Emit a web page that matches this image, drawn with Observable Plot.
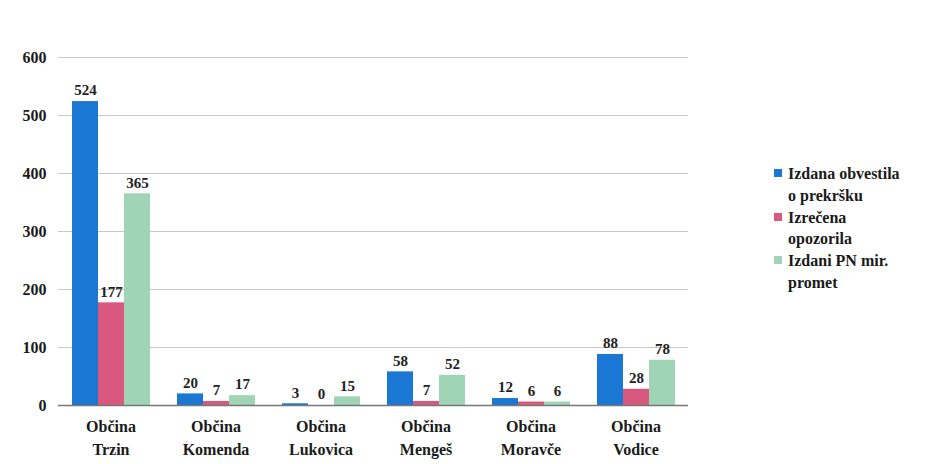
<!DOCTYPE html>
<html>
<head>
<meta charset="utf-8">
<script src="https://cdn.jsdelivr.net/npm/d3@7"></script>
<script src="https://cdn.jsdelivr.net/npm/@observablehq/plot@0.6"></script>
<style>
  html, body { margin: 0; padding: 0; background: #fff; }
  #wrap { position: relative; width: 936px; height: 464px; }
  #legend { position: absolute; left: 774px; top: 163px; font-family: "Times New Roman", Times, "Liberation Serif", "DejaVu Serif", "Noto Serif", serif; font-weight: bold; font-size: 16px; line-height: 21.8px; color: #1a1a1a; }
  #legend .item { display: flex; align-items: flex-start; }
  #legend .sw { width: 8px; height: 8px; margin-top: 6px; margin-right: 6px; flex: none; }
  svg text { font-family: "Times New Roman", Times, "Liberation Serif", "DejaVu Serif", "Noto Serif", serif; }
</style>
</head>
<body>
<div id="wrap"><div id="legend"></div></div>
<script>
const municipalities = ["Trzin", "Komenda", "Lukovica", "Mengeš", "Moravče", "Vodice"];
const seriesNames = ["Izdana obvestila o prekršku", "Izrečena opozorila", "Izdani PN mir. promet"];
const legendLines = [["Izdana obvestila", "o prekršku"], ["Izrečena", "opozorila"], ["Izdani PN mir.", "promet"]];
const obvestila = [524, 20, 3, 58, 12, 88];
const opozorila = [177, 7, 0, 7, 6, 28];
const pnPromet = [365, 17, 15, 52, 6, 78];
const yTicks = [0, 100, 200, 300, 400, 500, 600];
const colors = ["#1a78d4", "#d9587f", "#9fd5b4"];

const seriesValues = [obvestila, opozorila, pnPromet];
const rows = [];
municipalities.forEach((m, i) => {
  seriesNames.forEach((s, j) => rows.push({muni: m, series: s, value: seriesValues[j][i]}));
});

const font = '"Times New Roman", Times, "Liberation Serif", "DejaVu Serif", "Noto Serif", serif';
const chart = Plot.plot({
  width: 936,
  height: 464,
  marginLeft: 55,
  marginRight: 246,
  marginTop: 57,
  marginBottom: 59,
  style: {fontFamily: font, fontWeight: "bold", fontSize: "16px", color: "#1a1a1a", background: "#fff"},
  fx: {domain: municipalities, paddingInner: 0, paddingOuter: 0, axis: null},
  x: {domain: seriesNames, paddingInner: 0, paddingOuter: 0.49, axis: null},
  y: {domain: [0, 600], ticks: yTicks, tickSize: 0, tickPadding: 12, label: null},
  color: {domain: seriesNames, range: colors},
  marks: [
    Plot.gridY(yTicks, {stroke: "#c8c8c8", strokeOpacity: 1, strokeWidth: 1}),
    Plot.barY(rows, {fx: "muni", x: "series", y: "value", fill: "series"}),
    Plot.ruleY([0], {stroke: "#777", strokeWidth: 1.5}),
    Plot.text(rows, {fx: "muni", x: "series", y: "value", text: d => String(d.value), dy: -11, fontSize: 15, fill: "#222"}),
    Plot.text(municipalities, {fx: d => d, text: d => "Občina\n" + d, frameAnchor: "bottom", lineAnchor: "top", dy: 11, lineHeight: 1.4, fontSize: 16, fill: "#1a1a1a"})
  ]
});
document.getElementById("wrap").prepend(chart);

const legend = document.getElementById("legend");
legendLines.forEach((lines, j) => {
  const item = document.createElement("div");
  item.className = "item";
  const sw = document.createElement("div");
  sw.className = "sw";
  sw.style.background = colors[j];
  const txt = document.createElement("div");
  txt.innerHTML = lines.join("<br>");
  item.appendChild(sw);
  item.appendChild(txt);
  legend.appendChild(item);
});
</script>
</body>
</html>
